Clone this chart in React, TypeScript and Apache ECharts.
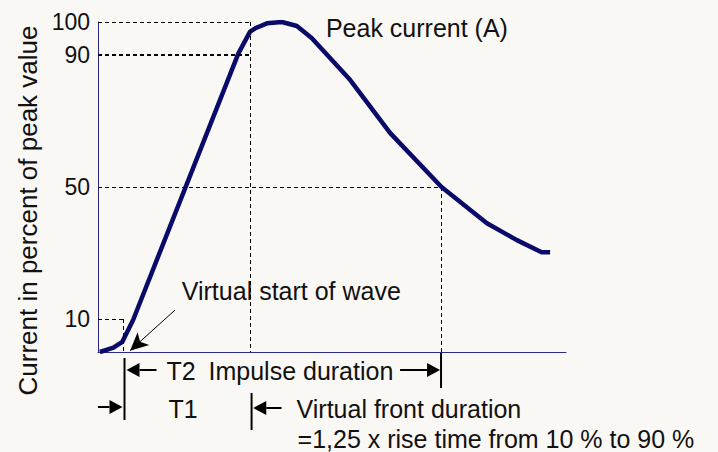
import React, { useEffect, useRef } from 'react';
import * as echarts from 'echarts';

// Time axis in arbitrary units (0..100), current in percent of peak value
const timeValues = [0.4, 3.3, 5.2, 7.5, 30.0, 32.5, 33.6, 36.1, 39.3, 42.5, 45.7, 53.9, 62.4, 73.4, 83.1, 89.5, 94.8, 96.6];
const currentValues = [0, 1.3, 3.1, 9.7, 90.5, 97.1, 98.1, 99.6, 100, 98.8, 95.1, 82.4, 66.4, 50, 39.0, 33.9, 30.2, 30.2];
const yTickLabels = [10, 50, 90, 100];

// Reference points (time value, percent)
const virtualStartTime = 5.45;
const frontEndTime = 32.6;
const halfValueTime = 73.3;
const levels = [100, 90, 50, 10];

const FONT = "'Liberation Sans', Arial, sans-serif";
const FS = 25;
const BG = '#faf8f4';
const NAVY = '#0a0a6a';

export default function App() {
  const ref = useRef<HTMLDivElement>(null);
  useEffect(() => {
    if (!ref.current) return;
    document.body.style.margin = '0';
    document.body.style.background = BG;
    const chart = echarts.init(ref.current, null, { renderer: 'svg' });
    const dashed = (w: number) => ({ type: [4, 3] as any, color: '#000', width: w });
    const mlData: any[] = [
      [{ coord: [0, levels[0]], lineStyle: dashed(1) }, { coord: [frontEndTime, levels[0]] }],
      [{ coord: [0, levels[1]], lineStyle: dashed(2) }, { coord: [frontEndTime, levels[1]] }],
      [{ coord: [frontEndTime, levels[0]], lineStyle: dashed(1) }, { coord: [frontEndTime, 0] }],
      [{ coord: [0, levels[2]], lineStyle: dashed(1) }, { coord: [halfValueTime, levels[2]] }],
      [{ coord: [halfValueTime, levels[2]], lineStyle: dashed(1) }, { coord: [halfValueTime, 0] }],
      [{ coord: [0, levels[3]], lineStyle: dashed(1) }, { coord: [virtualStartTime, levels[3]] }],
      [{ coord: [virtualStartTime, levels[3]], lineStyle: dashed(1) }, { coord: [virtualStartTime, 0] }],
      [
        { coord: [16.45, 12.7], symbol: 'none', lineStyle: { type: 'solid', color: '#000', width: 1 } },
        { coord: [6.85, 0.4], symbol: 'arrow', symbolSize: [13, 18] },
      ],
    ];
    const option: any = {
      animation: false,
      backgroundColor: BG,
      grid: { left: 98, right: 152, top: 22, bottom: 100, containLabel: false },
      xAxis: {
        type: 'value', min: 0, max: 100,
        axisLabel: { show: false }, axisTick: { show: false }, splitLine: { show: false },
        axisLine: { lineStyle: { color: '#2a2a8a', width: 1 } },
      },
      yAxis: {
        type: 'value', min: 0, max: 100, interval: 10,
        axisTick: { show: false }, splitLine: { show: false },
        axisLine: { show: true, lineStyle: { color: '#2a2a8a', width: 1 } },
        axisLabel: {
          color: '#111', fontSize: 23, fontFamily: FONT, margin: 8,
          formatter: (v: number) => (yTickLabels.includes(v) ? String(v) : ''),
        },
        name: 'Current in percent of peak value',
        nameLocation: 'middle', nameRotate: 90, nameGap: 50,
        nameTextStyle: { color: '#111', fontSize: 26, fontFamily: FONT, padding: [0, 47, 0, 0] },
      },
      series: [{
        type: 'line',
        data: timeValues.map((t, i) => [t, currentValues[i]]),
        showSymbol: false, symbol: 'none',
        lineStyle: { color: NAVY, width: 4.5, join: 'bevel' },
        markLine: { silent: true, symbol: 'none', label: { show: false }, data: mlData, animation: false },
      }],
    };
    chart.setOption(option);

    const px = (t: number, v: number) => chart.convertToPixel({ gridIndex: 0 }, [t, v]) as number[];
    const [x0, yAxis] = px(0, 0);
    const xs = px(virtualStartTime, 0)[0];
    const xf = px(frontEndTime, 0)[0];
    const xh = px(halfValueTime, 0)[0];
    const [xPeakLbl, yPeakLbl] = px(48.7, 98.2);
    const [xVsLbl, yVsLbl] = px(17.9, 18.6);

    const txt = (x: number, y: number, s: string, size = FS) => ({
      type: 'text', x, y,
      style: { text: s, fill: '#111', fontSize: size, fontFamily: FONT, verticalAlign: 'middle' },
    });
    const bar = (x: number, y1: number, y2: number) => ({
      type: 'line', shape: { x1: x, y1, x2: x, y2 }, style: { stroke: '#000', lineWidth: 2 },
    });
    const arrow = (tipX: number, tailX: number, y: number) => {
      const dir = tailX < tipX ? 1 : -1;
      const baseX = tipX - dir * 13;
      return [
        { type: 'line', shape: { x1: tailX, y1: y, x2: baseX, y2: y }, style: { stroke: '#000', lineWidth: 2 } },
        { type: 'polygon', shape: { points: [[tipX, y], [baseX, y - 7], [baseX, y + 7]] }, style: { fill: '#000' } },
      ];
    };

    chart.setOption({
      graphic: [
        txt(xPeakLbl, yPeakLbl, 'Peak current (A)'),
        txt(xVsLbl, yVsLbl, 'Virtual start of wave'),
        bar(xs + 1, yAxis + 6, yAxis + 68),
        ...arrow(xs + 3, xs + 33, yAxis + 18),
        txt(xs + 43, yAxis + 18.5, 'T2'),
        txt(xs + 85, yAxis + 18.5, 'Impulse duration'),
        ...arrow(xh - 1, xh - 41, yAxis + 18),
        bar(xh, yAxis, yAxis + 36),
        ...arrow(xs - 1, x0, yAxis + 55),
        txt(xs + 45, yAxis + 57, 'T1'),
        bar(xf + 1, yAxis + 41, yAxis + 78),
        ...arrow(xf + 2.7, xf + 31, yAxis + 56),
        txt(xf + 46, yAxis + 57, 'Virtual front duration'),
        txt(xf + 47, yAxis + 87, '=1,25 x rise time from 10 % to 90 %', 25),
      ],
    });
    return () => chart.dispose();
  }, []);
  return <div ref={ref} style={{ position: 'absolute', left: 0, top: 0, width: 718, height: 452 }} />;
}
